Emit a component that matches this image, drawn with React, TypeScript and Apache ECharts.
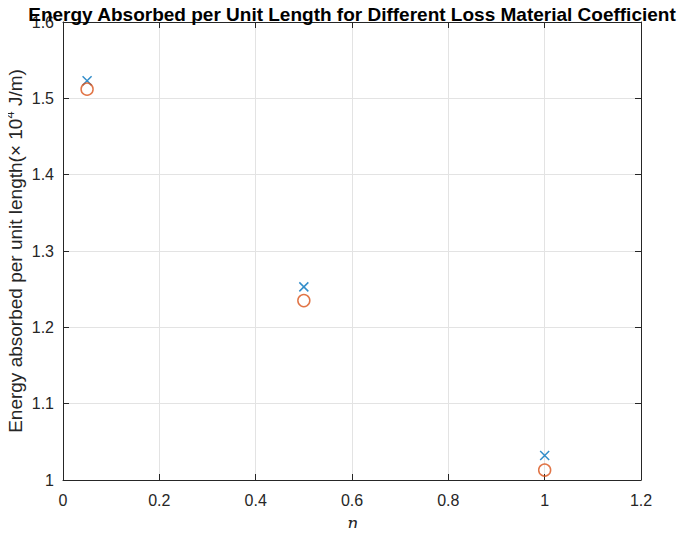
import React, { useEffect, useRef } from "react";
import * as echarts from "echarts";

const etaValues = [0.05, 0.5, 1];
const crossSeries = [1.523, 1.253, 1.032];
const circleSeries = [1.512, 1.235, 1.013];
const titleText = "Energy Absorbed per Unit Length for Different Loss Material Coefficient";

const fmt = (v: number) => String(Math.round(v * 10) / 10);

export default function App() {
  const ref = useRef<HTMLDivElement>(null);
  useEffect(() => {
    if (!ref.current) return;
    const chart = echarts.init(ref.current, null, { renderer: "svg" });
    const font = "Liberation Sans, Arial, Helvetica, sans-serif";
    const axisCommon = {
      axisLine: { show: true, onZero: false, lineStyle: { color: "#262626", width: 1 } },
      axisTick: { show: true, inside: true, length: 6, lineStyle: { color: "#262626" } },
    };
    chart.setOption({
      animation: false,
      backgroundColor: "#ffffff",
      title: {
        text: titleText,
        left: 347,
        textAlign: "center",
        top: 0,
        textStyle: { fontFamily: font, fontSize: 19, fontWeight: "bold", color: "#000" },
      },
      grid: { left: 63, right: 44, top: 22, bottom: 56, containLabel: false, outerBoundsMode: "none" },
      xAxis: [
        {
          type: "value",
          min: 0,
          max: 1.2,
          interval: 0.2,
          position: "bottom",
          ...axisCommon,
          axisLabel: { formatter: fmt, fontFamily: font, fontSize: 16, color: "#262626", margin: 12 },
          splitLine: { show: true, lineStyle: { color: "#e3e3e3", width: 1 } },
          name: "η",
          nameLocation: "middle",
          nameGap: 34,
          nameMoveOverlap: false,
          nameTextStyle: { fontFamily: "DejaVu Serif, serif", fontStyle: "italic", fontSize: 17, color: "#262626" },
        },
        {
          type: "value",
          min: 0,
          max: 1.2,
          interval: 0.2,
          position: "top",
          ...axisCommon,
          axisLabel: { show: false },
          splitLine: { show: false },
        },
      ],
      yAxis: [
        {
          type: "value",
          min: 1,
          max: 1.6,
          interval: 0.1,
          position: "left",
          ...axisCommon,
          axisLabel: { formatter: fmt, fontFamily: font, fontSize: 16, lineHeight: 12, color: "#262626", margin: 9 },
          splitLine: { show: true, lineStyle: { color: "#e3e3e3", width: 1 } },
          name: "{a|Energy absorbed per unit length(× 10}{s|4}{a| J/m)}",
          nameLocation: "middle",
          nameGap: 35,
          nameMoveOverlap: false,
          nameRotate: 90,
          nameTextStyle: {
            rich: {
              a: { fontFamily: font, fontSize: 19, color: "#262626" },
              s: { fontFamily: font, fontSize: 13, color: "#262626", verticalAlign: "top", padding: [0, 0, 12, 0] },
            },
          },
        },
        {
          type: "value",
          min: 1,
          max: 1.6,
          interval: 0.1,
          position: "right",
          ...axisCommon,
          axisLabel: { show: false },
          splitLine: { show: false },
        },
      ],
      series: [
        {
          type: "scatter",
          name: "cross",
          data: etaValues.map((x, i) => [x, crossSeries[i]]),
          symbol: "path://M0,0L10,10M10,0L0,10",
          symbolSize: 9,
          itemStyle: { color: "none", borderColor: "#0072BD", borderWidth: 1.5 },
          z: 3,
        },
        {
          type: "scatter",
          name: "circle",
          data: etaValues.map((x, i) => [x, circleSeries[i]]),
          symbol: "circle",
          symbolSize: 12,
          itemStyle: { color: "none", borderColor: "#D95319", borderWidth: 1.5 },
          z: 3,
        },
      ],
    });
    return () => chart.dispose();
  }, []);
  return <div ref={ref} style={{ width: 685, height: 536, margin: -8 }} />;
}
